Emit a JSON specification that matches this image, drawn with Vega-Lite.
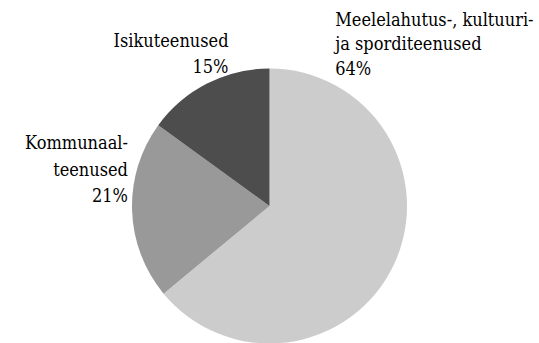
{
  "$schema": "https://vega.github.io/schema/vega-lite/v6.json",
  "width": 539,
  "height": 274,
  "autosize": {"type": "none"},
  "padding": {"top": 69, "left": 0, "right": 0, "bottom": 0},
  "background": "white",
  "view": {"stroke": null},
  "config": {"font": "DejaVu Serif Condensed, DejaVu Serif"},
  "data": {
    "values": [
      {"category": "Meelelahutus-, kultuuri- ja sporditeenused", "share": 64, "idx": 1, "label": "Meelelahutus-, kultuuri-\n ja sporditeenused\n64%"},
      {"category": "Kommunaalteenused", "share": 21, "idx": 2, "label": "Kommunaal-\nteenused\n21%"},
      {"category": "Isikuteenused", "share": 15, "idx": 3, "label": "Isikuteenused\n15%"}
    ]
  },
  "encoding": {
    "theta": {"field": "share", "type": "quantitative", "stack": true},
    "order": {"field": "idx", "type": "quantitative"}
  },
  "layer": [
    {
      "mark": {"type": "arc", "outerRadius": 137.5},
      "encoding": {
        "color": {
          "field": "category",
          "type": "nominal",
          "scale": {
            "domain": ["Meelelahutus-, kultuuri- ja sporditeenused", "Kommunaalteenused", "Isikuteenused"],
            "range": ["#cccccc", "#999999", "#4d4d4d"]
          },
          "legend": null
        }
      }
    },
    {
      "mark": {"type": "text", "radius": 150, "align": "left", "baseline": "alphabetic", "dx": -70, "dy": -244, "fontSize": 18, "lineHeight": 24.5, "lineBreak": "\n", "font": "DejaVu Serif Condensed, DejaVu Serif", "color": "#000000"},
      "encoding": {"text": {"condition": {"test": "datum.idx == 1", "field": "label"}, "value": ""}}
    },
    {
      "mark": {"type": "text", "radius": 150, "align": "right", "baseline": "alphabetic", "dx": 8.4, "dy": -61.7, "fontSize": 18, "lineHeight": 26.5, "lineBreak": "\n", "font": "DejaVu Serif Condensed, DejaVu Serif", "color": "#000000"},
      "encoding": {"text": {"condition": {"test": "datum.idx == 2", "field": "label"}, "value": ""}}
    },
    {
      "mark": {"type": "text", "radius": 150, "align": "right", "baseline": "alphabetic", "dx": 27.1, "dy": -25.8, "fontSize": 18, "lineHeight": 26.5, "lineBreak": "\n", "font": "DejaVu Serif Condensed, DejaVu Serif", "color": "#000000"},
      "encoding": {"text": {"condition": {"test": "datum.idx == 3", "field": "label"}, "value": ""}}
    }
  ]
}
